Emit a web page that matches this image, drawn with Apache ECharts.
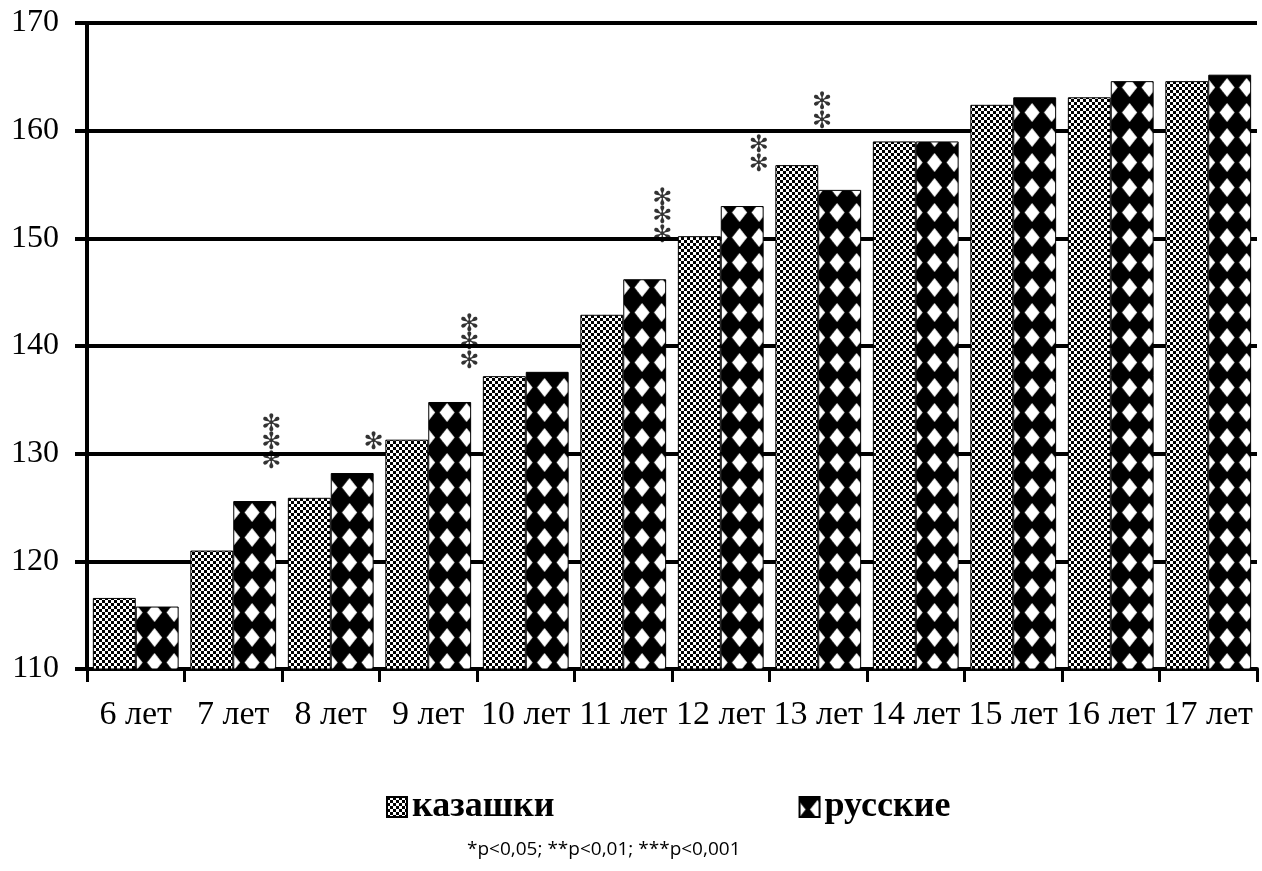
<!DOCTYPE html>
<html>
<head>
<meta charset="utf-8">
<script src="https://cdn.jsdelivr.net/npm/echarts@6/dist/echarts.min.js"></script>
<style>
html,body{margin:0;padding:0;background:#fff;}
#chart{width:1262px;height:871px;}
</style>
</head>
<body>
<div id="chart"></div>
<script>
// ---- data ----
var categories = ['6 лет','7 лет','8 лет','9 лет','10 лет','11 лет','12 лет','13 лет','14 лет','15 лет','16 лет','17 лет'];
var kazakh = [116.6, 121.0, 125.9, 131.3, 137.2, 142.9, 150.2, 156.8, 159.0, 162.4, 163.1, 164.6];
var russian = [115.8, 125.6, 128.2, 134.8, 137.6, 146.2, 153.0, 154.5, 159.0, 163.1, 164.6, 165.2];
var yTicks = [110, 120, 130, 140, 150, 160, 170];
// significance marks (position along category axis in category units, height in axis units)
var sigX = [1.89, 2.94, 3.92, 5.90, 6.89, 7.54];
var sigY = [131.0, 131.0, 140.3, 152.0, 157.7, 161.7];
var sigMarks = ['***', '*', '***', '***', '**', '**'];
var seriesNames = ['казашки', 'русские'];
var footnote = '*p<0,05; **p<0,01; ***p<0,001';

// ---- patterns ----
function checkerCanvas(){
  var c = document.createElement('canvas'); c.width = 6; c.height = 6;
  var g = c.getContext('2d');
  g.fillStyle = '#fff'; g.fillRect(0,0,6,6);
  g.fillStyle = '#000'; g.fillRect(0,0,3,3); g.fillRect(3,3,3,3);
  return c;
}
function diamondCanvas(){
  var w = 39, h = 25;
  var c = document.createElement('canvas'); c.width = w; c.height = h;
  var g = c.getContext('2d');
  g.fillStyle = '#000'; g.fillRect(0,0,w,h);
  g.fillStyle = '#fff';
  [9.75, 29.25].forEach(function(cx){
    var cy = 12.5, rx = 7.5, ry = 9.5;
    g.beginPath();
    g.moveTo(cx, cy - ry); g.lineTo(cx + rx, cy); g.lineTo(cx, cy + ry); g.lineTo(cx - rx, cy);
    g.closePath(); g.fill();
  });
  return c;
}
var kazPattern = { image: checkerCanvas(), repeat: 'repeat' };
var rusPattern = { image: diamondCanvas(), repeat: 'repeat', x: 27.75, y: 0 };

var starChar = '✻';
var sigData = sigX.map(function(x, i){
  return { value: [x, sigY[i]], mark: sigMarks[i].split('').map(function(){return starChar;}).join('\n') };
});

var chart = echarts.init(document.getElementById('chart'), null, {renderer:'canvas'});
chart.setOption({
  backgroundColor: '#fff',
  animation: false,
  title: {
    text: footnote,
    left: 462,
    top: 835,
    textStyle: { fontFamily: 'Open Sans', fontSize: 19, fontWeight: 'normal', color: '#000' }
  },
  legend: {
    data: seriesNames,
    left: 381,
    top: 784,
    itemWidth: 20,
    itemHeight: 20,
    itemGap: 244,
    icon: 'rect',
    textStyle: { fontFamily: 'Liberation Serif', fontWeight: 'bold', fontSize: 36, color: '#000' }
  },
  grid: { left: 87, right: 5, top: 23, bottom: 202, containLabel: false },
  xAxis: [{
    type: 'category',
    data: categories,
    axisLine: { show: true, lineStyle: { color: '#000', width: 4 } },
    axisTick: { show: true, length: 13, lineStyle: { color: '#000', width: 3 } },
    axisLabel: { interval: 0, fontFamily: 'Liberation Serif', fontSize: 34, color: '#000', margin: 29 }
  }, {
    type: 'value', min: 0, max: 12, show: false
  }],
  yAxis: {
    type: 'value',
    min: yTicks[0],
    max: yTicks[yTicks.length - 1],
    interval: 10,
    axisLine: { show: true, lineStyle: { color: '#000', width: 4 } },
    axisTick: { show: true, length: 12, lineStyle: { color: '#000', width: 4 } },
    splitLine: { show: true, lineStyle: { color: '#000', width: 4 } },
    axisLabel: { fontFamily: 'Liberation Serif', fontSize: 32, color: '#000', margin: 28 }
  },
  series: [{
    name: seriesNames[0],
    type: 'bar',
    data: kazakh,
    barGap: '0%',
    barCategoryGap: '12%',
    itemStyle: { color: kazPattern, borderColor: '#000', borderWidth: 1 },
    z: 3
  }, {
    name: seriesNames[1],
    type: 'bar',
    data: russian,
    barGap: '0%',
    barCategoryGap: '12%',
    itemStyle: { color: rusPattern, borderColor: '#000', borderWidth: 1 },
    z: 3
  }, {
    type: 'scatter',
    xAxisIndex: 1,
    data: sigData,
    symbolSize: 1,
    itemStyle: { color: 'rgba(0,0,0,0)' },
    label: {
      show: true,
      position: 'inside',
      formatter: function(p){ return p.data.mark; },
      fontFamily: 'DejaVu Sans',
      fontSize: 24,
      fontWeight: 'bold',
      lineHeight: 18.5,
      color: '#000'
    },
    z: 5
  }]
});
</script>
</body>
</html>
